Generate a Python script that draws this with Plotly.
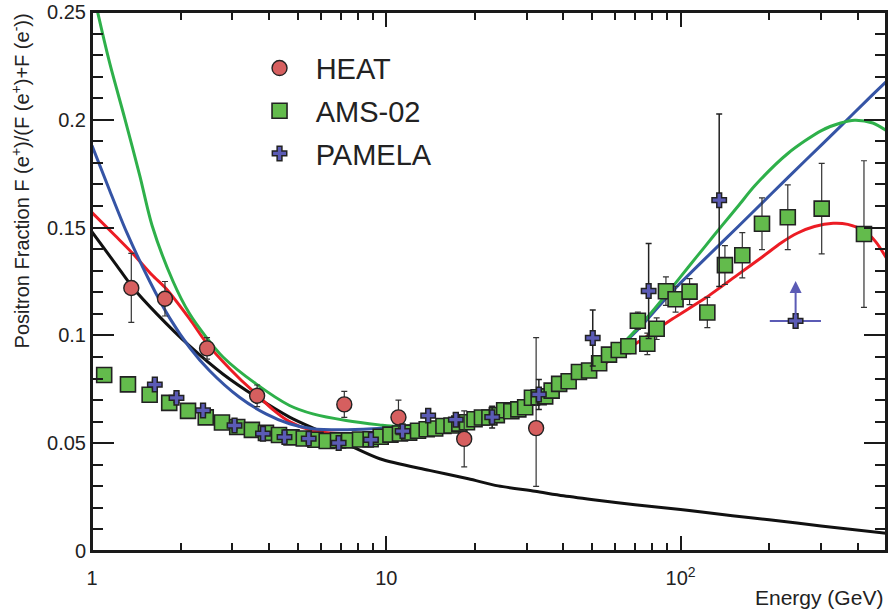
import plotly.graph_objects as go
import math

# ---------------- data ----------------
heat_x = [1.36, 1.77, 2.46, 3.64, 7.2, 11.0, 18.4, 32.3]
heat_y = [0.122, 0.117, 0.094, 0.072, 0.068, 0.062, 0.052, 0.057]
heat_eu = [0.016, 0.008, 0.005, 0.005, 0.006, 0.008, 0.013, 0.042]
heat_ed = [0.016, 0.008, 0.005, 0.005, 0.006, 0.008, 0.013, 0.027]

ams_x = [1.10, 1.325, 1.57, 1.83, 2.12, 2.435, 2.765, 3.115, 3.494, 3.90, 4.32, 4.764,
         5.244, 5.745, 6.274, 6.853, 7.473, 8.142, 8.848, 9.573, 10.33, 11.13, 11.96,
         12.82, 13.72, 14.66, 15.64, 16.66, 17.71, 18.80, 19.95, 21.14, 22.41, 23.75,
         25.15, 26.60, 28.10, 29.65, 31.26, 32.94, 34.67, 36.47, 38.68, 41.66, 45.16,
         48.90, 52.89, 57.13, 61.65, 66.47, 71.6, 77.1, 82.95, 89.19, 96.18, 107.3,
         123.3, 141.5, 162.1, 189.1, 231.4, 301.7, 420.0]
ams_y = [0.0816, 0.0773, 0.0725, 0.0687, 0.0650, 0.0620, 0.0596, 0.0575, 0.0562, 0.0548,
         0.0538, 0.0527, 0.0522, 0.0516, 0.0510, 0.0513, 0.0513, 0.0517, 0.0518, 0.0530,
         0.0540, 0.0545, 0.0549, 0.0558, 0.0565, 0.0568, 0.0580, 0.0582, 0.0591, 0.0597,
         0.0611, 0.0619, 0.0619, 0.0630, 0.0653, 0.0648, 0.0657, 0.0667, 0.0711, 0.0713,
         0.0717, 0.0744, 0.0775, 0.0787, 0.0830, 0.0837, 0.0871, 0.0911, 0.0932, 0.0950,
         0.1068, 0.0961, 0.1031, 0.1205, 0.1168, 0.1203, 0.1106, 0.1326, 0.1372, 0.1518,
         0.1548, 0.1588, 0.1470]
ams_err = [0.0008] * 38 + [0.0015] * 6 + [0.0025] * 4 + \
          [0.003, 0.0035, 0.004, 0.005, 0.005, 0.0066, 0.006, 0.006, 0.007, 0.009,
           0.0105, 0.012, 0.015, 0.021, 0.034]

pam_x = [1.635, 1.937, 2.384, 3.05, 3.81, 4.51, 5.45, 6.89, 8.87, 11.36, 13.88, 17.23,
         22.9, 33.0, 50.3, 77.9, 135.3]
pam_y = [0.0772, 0.0710, 0.0652, 0.0582, 0.0544, 0.0528, 0.0521, 0.0501, 0.0516, 0.0556,
         0.0628, 0.0609, 0.0621, 0.0726, 0.0988, 0.1206, 0.1627]
pam_err = [0.002, 0.002, 0.002, 0.002, 0.002, 0.002, 0.002, 0.002, 0.002, 0.002,
           0.003, 0.003, 0.005, 0.007, 0.013, 0.022, 0.040]

# PAMELA lower-limit point
pam_lim_x = [246.0]
pam_lim_y = [0.1067]
pam_lim_xlo = [201.0]
pam_lim_xhi = [300.0]
pam_lim_arrow = 0.0185

black_x = [1.0, 1.2, 1.38, 1.66, 2.15, 2.79, 3.61, 4.69, 6.0, 7.5, 9.5, 14, 19, 24, 32,
           40, 53, 70, 100, 150, 200, 300, 500]
black_y = [0.148, 0.1333, 0.122, 0.110, 0.095, 0.082, 0.0715, 0.0621, 0.0553, 0.049,
           0.0428, 0.0374, 0.0335, 0.0302, 0.0277, 0.0256, 0.0234, 0.0214, 0.0193,
           0.0164, 0.0145, 0.0116, 0.0082]

red_x = [1.0, 1.2, 1.38, 1.6, 1.79, 2.15, 2.46, 3.17, 3.64, 4.11, 4.69, 5.5, 6.5, 8, 10,
         14, 20, 30, 44, 57, 72, 94, 121, 157, 190, 220, 250, 285, 330, 370, 420, 460, 500]
red_y = [0.157, 0.1462, 0.1378, 0.128, 0.1215, 0.1075, 0.0962, 0.080, 0.0725, 0.0657,
         0.0600, 0.0562, 0.0547, 0.0544, 0.0553, 0.0580, 0.0620, 0.0685, 0.0800, 0.0880,
         0.0970, 0.1077, 0.1172, 0.1283, 0.1365, 0.1430, 0.1475, 0.1505, 0.1520, 0.1515,
         0.1485, 0.1435, 0.1360]

blue_x = [1.0, 1.15, 1.31, 1.572, 1.837, 2.146, 2.51, 3.17, 3.9, 4.69, 5.6, 7, 9, 10.8,
          14, 20, 30, 45, 60, 72, 94, 121, 157, 204, 265, 344, 433, 500]
blue_y = [0.188, 0.167, 0.148, 0.125, 0.108, 0.0944, 0.0836, 0.0713, 0.0636, 0.059,
          0.0567, 0.0562, 0.0567, 0.0575, 0.059, 0.0625, 0.0695, 0.081, 0.093, 0.103,
          0.1206, 0.1355, 0.1505, 0.1658, 0.181, 0.196, 0.2095, 0.2177]

green_x = [1.0, 1.037, 1.15, 1.29, 1.454, 1.6, 1.886, 2.146, 2.45, 2.786, 3.61, 4.69,
           5.63, 7.3, 9.46, 10.8, 14, 20, 30, 45, 60, 72, 80, 94, 106, 121, 138, 157,
           179, 232, 301, 350, 390, 450, 500]
green_y = [0.262, 0.252, 0.226, 0.201, 0.174, 0.151, 0.125, 0.110, 0.099, 0.090, 0.0775,
           0.0675, 0.0636, 0.0605, 0.0585, 0.0578, 0.059, 0.0630, 0.0700, 0.0815, 0.093,
           0.1038, 0.111, 0.1226, 0.1315, 0.1412, 0.1508, 0.160, 0.1695, 0.1845, 0.1950,
           0.1985, 0.1998, 0.1985, 0.1950]

x_major = [1, 10, 100]
x_major_text = ["1", "10", "10<sup>2</sup>"]
x_minor = [2, 3, 4, 5, 6, 7, 8, 9, 20, 30, 40, 50, 60, 70, 80, 90, 200, 300, 400, 500]
y_major = [0, 0.05, 0.1, 0.15, 0.2, 0.25]
y_major_text = ["0", "0.05", "0.1", "0.15", "0.2", "0.25"]

# ---------------- styles ----------------
FONT = "Liberation Sans, Arial, sans-serif"
C_HEAT = "#d65f5f"
C_AMS = "#63bb4c"
C_PAM = "#5b5bb5"
C_EDGE = "#222222"
AX = "#1a1a1a"
NB = "\u00a0\u00a0"

fig = go.Figure()

for xs, ys, col in [(black_x, black_y, "#111111"), (red_x, red_y, "#ec1c24"),
                    (blue_x, blue_y, "#3554a5"), (green_x, green_y, "#2eb04a")]:
    fig.add_trace(go.Scatter(x=xs, y=ys, mode="lines", showlegend=False,
                             line=dict(color=col, width=3, shape="spline", smoothing=0.8),
                             hoverinfo="skip"))

fig.add_trace(go.Scatter(
    x=ams_x, y=ams_y, mode="markers", name=NB + "AMS-02", legendrank=2, legendgroup="b",
    marker=dict(symbol="square", size=15, color=C_AMS, line=dict(color=C_EDGE, width=1.6)),
    error_y=dict(type="data", array=ams_err, color="#333333", thickness=1.2, width=3)))

fig.add_trace(go.Scatter(
    x=heat_x, y=heat_y, mode="markers", name=NB + "HEAT", legendrank=1, legendgroup="a",
    marker=dict(symbol="circle", size=15, color=C_HEAT, line=dict(color=C_EDGE, width=1.4)),
    error_y=dict(type="data", symmetric=False, array=heat_eu, arrayminus=heat_ed,
                 color="#333333", thickness=1.2, width=3)))

fig.add_trace(go.Scatter(
    x=pam_x, y=pam_y, mode="markers", name=NB + "PAMELA", legendrank=3, legendgroup="c",
    marker=dict(symbol="cross", size=12, color=C_PAM, line=dict(color=C_EDGE, width=1.5)),
    error_y=dict(type="data", array=pam_err, color="#222222", thickness=1.5, width=3)))

fig.add_trace(go.Scatter(
    x=pam_lim_x, y=pam_lim_y, mode="markers", showlegend=False,
    marker=dict(symbol="cross", size=12, color=C_PAM, line=dict(color=C_EDGE, width=1.5)),
    error_x=dict(type="data", symmetric=False,
                 array=[h - c for h, c in zip(pam_lim_xhi, pam_lim_x)],
                 arrayminus=[c - l for l, c in zip(pam_lim_xlo, pam_lim_x)],
                 color=C_PAM, thickness=2, width=0)))

fig.add_annotation(x=math.log10(pam_lim_x[0]), y=pam_lim_y[0] + pam_lim_arrow,
                   ax=math.log10(pam_lim_x[0]), ay=pam_lim_y[0], xref="x", yref="y",
                   axref="x", ayref="y", text="", showarrow=True, arrowhead=2,
                   arrowsize=1.2, arrowwidth=2, arrowcolor=C_PAM, standoff=0,
                   startstandoff=0)

fig.add_annotation(xref="paper", yref="paper", x=-0.0905, y=0.686,
                   text="Positron Fraction F (e<sup>+</sup>)/(F (e<sup>+</sup>)+F (e<sup>-</sup>))",
                   textangle=-90, showarrow=False, xanchor="center", yanchor="middle",
                   font=dict(family=FONT, size=20, color="#222222"))
fig.add_annotation(xref="paper", yref="paper", x=0.9987, y=-0.087,
                   text="Energy (GeV)", showarrow=False, xanchor="right", yanchor="middle",
                   font=dict(family=FONT, size=21, color="#222222"))

# frame around the plot area
fig.add_shape(type="rect", xref="paper", yref="paper", x0=0, x1=1, y0=0, y1=1,
              line=dict(color=AX, width=2), layer="above")

axis_common = dict(showline=True, linecolor=AX, linewidth=2, mirror="ticks",
                   ticks="inside", tickcolor=AX, tickwidth=1.5, showgrid=False,
                   zeroline=False, ticklabeloverflow="allow",
                   tickfont=dict(family=FONT, size=20, color="#222222"))

fig.update_xaxes(type="log", range=[0, math.log10(499)], tickmode="array",
                 tickvals=x_major, ticktext=x_major_text, ticklen=15, ticklabelstandoff=8,
                 minor=dict(tickmode="array", tickvals=x_minor, ticks="inside", ticklen=8,
                            tickwidth=1.5, tickcolor=AX, showgrid=False),
                 **axis_common)
fig.update_yaxes(range=[0, 0.25], tickmode="array", tickvals=y_major, ticktext=y_major_text,
                 ticklen=22,
                 minor=dict(dtick=0.01, ticks="inside", ticklen=11, tickwidth=1.5,
                            tickcolor=AX, showgrid=False),
                 **axis_common)

fig.update_layout(
    width=889, height=613,
    margin=dict(l=92, r=1, t=10, b=62),
    paper_bgcolor="white", plot_bgcolor="white",
    showlegend=True,
    legend=dict(x=0.211, y=0.943, xanchor="left", yanchor="top", traceorder="grouped",
                bgcolor="rgba(0,0,0,0)", font=dict(family=FONT, size=29, color="#222222"),
                itemsizing="trace", tracegroupgap=2),
)

# remove the default page margin so the figure fills the 889x613 window exactly
fig.write_html("out.html",
               config={"displayModeBar": False},
               post_script="document.body.style.margin='0';"
                           "document.body.style.overflow='hidden';")
